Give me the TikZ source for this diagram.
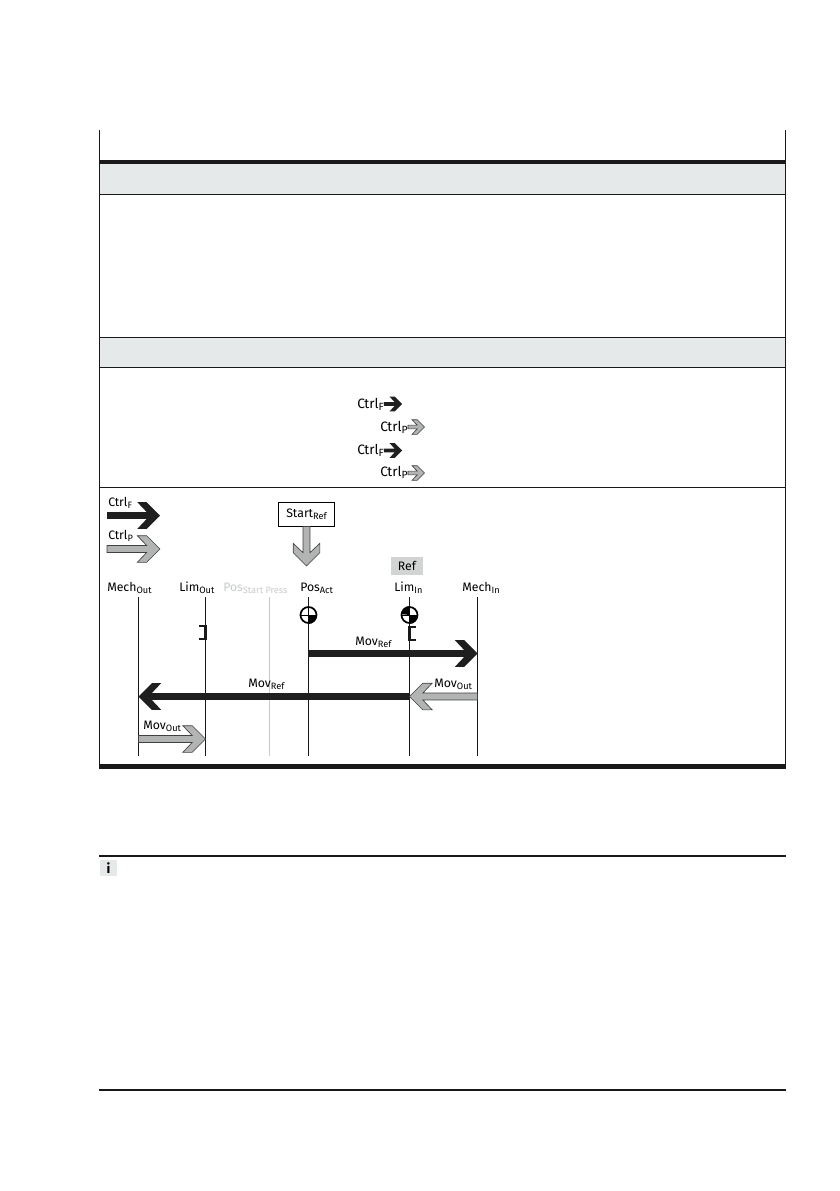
\documentclass[tikz,border=0pt]{standalone}
\usepackage{xcolor}
\usepackage{fontspec}
\setmainfont{Fira Sans}
\usetikzlibrary{calc,positioning}

\definecolor{bandgray}{HTML}{E6E9E9}
\definecolor{arrowgray}{HTML}{B2B4B4}
\definecolor{refgray}{HTML}{D2D4D4}
\definecolor{faintgray}{HTML}{C8CACA}

% text with a lowered index
\newcommand{\subsize}{6.9}
\newcommand{\sublabel}[2]{#1\raisebox{-1.6pt}{\fontsize{\subsize}{8}\selectfont #2}}

% fat arrow: style, size factor, from, to
\newcommand{\fatarrow}[4]{
  \path[#1] let \p1=(#3), \p2=(#4), \n1={atan2(\y2-\y1,\x2-\x1)}, \n2={veclen(\x2-\x1,\y2-\y1)} in
    [shift={(\p1)}, rotate=\n1]
    (0pt,{-2.6pt*#2}) -- ({\n2-10pt*#2},{-2.6pt*#2}) -- ({\n2-17pt*#2},{-10pt*#2})
    -- ({\n2-10pt*#2},{-10pt*#2}) -- (\n2,0pt) -- ({\n2-10pt*#2},{10pt*#2})
    -- ({\n2-17pt*#2},{10pt*#2}) -- ({\n2-10pt*#2},{2.6pt*#2}) -- (0pt,{2.6pt*#2}) -- cycle;
}

% sensor symbol: centre, name, extra fill
\newcommand{\sensormark}[3]{
  \node[markcircle] (#2) at (#1) {};
  \fill (#2.center) -- (#2.south) arc (-90:0:6pt) -- cycle;
  #3
  \draw (#2.north) -- (#2.south) (#2.west) -- (#2.east);
}

\begin{document}
\begin{tikzpicture}[x=0.75pt,y=-0.75pt,
    font=\fontsize{9.2}{10}\selectfont,
    tablerule/.style={line width=0.7pt, black!90},
    noterule/.style={line width=1.2pt, black!90},
    heavyrule/.style={line width=3.4pt, black!90},
    band/.style={fill=bandgray, draw=none},
    tag/.style={anchor=base west, inner sep=0pt},
    bigtag/.style={tag, font=\fontsize{10.2}{11}\selectfont\renewcommand{\subsize}{7.8}},
    limitline/.style={line width=0.7pt, black!90},
    fainttag/.style={tag, text=faintgray},
    faintline/.style={line width=0.6pt, faintgray},
    bracketmark/.style={line width=2.2pt, black!90},
    markcircle/.style={circle, draw, line width=1.3pt, minimum size=12pt, inner sep=0pt},
    darkarrow/.style={fill=black!88},
    lightarrow/.style={fill=arrowgray, draw=black!75, line width=0.5pt}]

\useasboundingbox (0,0) rectangle (839,1191);

% table frame and bands
\fill[band] (100,164) rectangle (785,194);
\fill[band] (100,337) rectangle (785,367);
\draw[tablerule] (99.5,130) -- (99.5,766);
\draw[tablerule] (785,130) -- (785,766);
\draw[heavyrule] (99,162) -- (785.5,162);
\draw[tablerule] (99.5,194.5) -- (785,194.5);
\draw[tablerule] (99.5,337) -- (785,337);
\draw[tablerule] (99.5,367) -- (785,367);
\draw[tablerule] (99.5,487.5) -- (785,487.5);
\draw[heavyrule] (99,766.5) -- (785.5,766.5);

% control lines in the table
\node[bigtag] (ctrlfa) at (357,408) {\sublabel{Ctrl}{F}};
\node[bigtag] (ctrlpa) at (380,431) {\sublabel{Ctrl}{P}};
\node[bigtag] (ctrlfb) at (357,454) {\sublabel{Ctrl}{F}};
\node[bigtag] (ctrlpb) at (380,476) {\sublabel{Ctrl}{P}};
\coordinate (ctrlfaend) at (402,404);
\coordinate (ctrlpaend) at (424.5,427);
\coordinate (ctrlfbend) at (402,450.5);
\coordinate (ctrlpbend) at (424.5,473);
\fatarrow{darkarrow}{0.55}{ctrlfaend -| ctrlfa.east}{ctrlfaend}
\fatarrow{lightarrow}{0.55}{ctrlpaend -| ctrlpa.east}{ctrlpaend}
\fatarrow{darkarrow}{0.55}{ctrlfbend -| ctrlfb.east}{ctrlfbend}
\fatarrow{lightarrow}{0.55}{ctrlpbend -| ctrlpb.east}{ctrlpbend}

% legend
\node[tag] (legendf) at (108,506) {\sublabel{Ctrl}{F}};
\node[tag] (legendp) at (108,539) {\sublabel{Ctrl}{P}};
\coordinate (legendfa) at (107,515.5);
\coordinate (legendfb) at (160,515.5);
\coordinate (legendpa) at (107,549);
\coordinate (legendpb) at (160,549);
\fatarrow{darkarrow}{1}{legendfa}{legendfb}
\fatarrow{lightarrow}{1}{legendpa}{legendpb}

% start of the run
\node[draw, line width=0.7pt, minimum width=42pt, minimum height=17.5pt, inner sep=0pt] (startref) at (306.5,514.5) {\sublabel{Start}{Ref}};
\coordinate (starttip) at (306.5,566);
\fatarrow{lightarrow}{1}{startref.south}{starttip}

% positions
\node[tag] (mechout) at (107,591) {\sublabel{Mech}{Out}};
\node[tag] (limout) at (179,591) {\sublabel{Lim}{Out}};
\node[fainttag] (posstart) at (223,591) {\sublabel{Pos}{Start Press}};
\node[tag] (posact) at (300,591) {\sublabel{Pos}{Act}};
\node[tag] (limin) at (394,591) {\sublabel{Lim}{In}};
\node[tag] (mechin) at (462,591) {\sublabel{Mech}{In}};
\node[fill=refgray, minimum width=24pt, minimum height=13.5pt, inner sep=0pt] (refbox) at (407,566) {Ref};

\coordinate (mechoutend) at (138.5,756);
\coordinate (limoutend) at (205.5,756);
\coordinate (posstartend) at (269.5,756);
\coordinate (posactend) at (308.5,756);
\coordinate (liminend) at (409.5,756);
\coordinate (mechinend) at (477.5,756);

\draw[limitline] (mechoutend |- 0,597) -- (mechoutend);
\draw[limitline] (limoutend |- 0,597) -- (limoutend);
\draw[faintline] (posstartend |- 0,597) -- (posstartend);
\draw[limitline] (mechinend |- 0,597) -- (mechinend);

\sensormark{308.5,615}{markact}{}
\sensormark{409.5,615}{markin}{\fill (markin.center) -- (markin.north) arc (90:180:6pt) -- cycle;}
\draw[limitline] (posactend |- 0,597) -- (markact.north);
\draw[limitline] (markact.south) -- (posactend);
\draw[limitline] (liminend |- 0,597) -- (markin.north);
\draw[limitline] (markin.south) -- (liminend);

% limit brackets
\draw[bracketmark] (199,626) -- (205.5,626) -- (205.5,639) -- (199,639);
\draw[bracketmark] (416,627) -- (409.5,627) -- (409.5,640) -- (416,640);

% moves
\node[tag] (movrefa) at (355,645) {\sublabel{Mov}{Ref}};
\node[tag] (movrefb) at (248,687) {\sublabel{Mov}{Ref}};
\node[tag] (movouta) at (434,687) {\sublabel{Mov}{Out}};
\node[tag] (movoutb) at (143,729) {\sublabel{Mov}{Out}};
\coordinate (movastart) at (308,653.5);
\coordinate (movbstart) at (409.5,696.5);
\coordinate (movcstart) at (477.5,696.5);
\coordinate (movdstart) at (138.5,739);
\fatarrow{darkarrow}{1}{movastart}{movastart -| mechinend}
\fatarrow{darkarrow}{1}{movbstart}{movbstart -| mechoutend}
\fatarrow{lightarrow}{1}{movcstart}{movbstart}
\fatarrow{lightarrow}{1}{movdstart}{movdstart -| limoutend}

% note and foot rules
\draw[noterule] (99,856) -- (785.5,856);
\node[fill=bandgray, minimum width=13pt, minimum height=12pt, inner sep=0pt, font=\fontsize{10}{10}\bfseries\selectfont] (infomark) at (108.5,868) {i};
\draw[noterule] (99,1090) -- (785.5,1090);

\end{tikzpicture}
\end{document}
